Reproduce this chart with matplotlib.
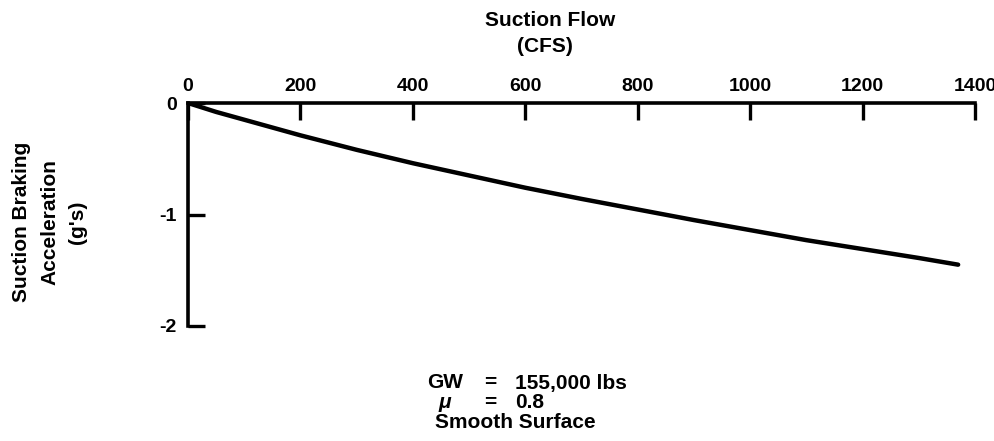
import numpy as np
import matplotlib.pyplot as plt

# suction flow (CFS) vs braking acceleration (g's)
flow = [0, 50, 100, 200, 300, 400, 500, 600, 700, 800, 900, 1000, 1100, 1200, 1300, 1370]
accel = [0, -0.08, -0.15, -0.29, -0.42, -0.54, -0.65, -0.76, -0.86, -0.955, -1.05,
         -1.14, -1.23, -1.31, -1.39, -1.45]

x_ticks = [0, 200, 400, 600, 800, 1000, 1200, 1400]
y_ticks = [0, -1, -2]

plt.rcParams['font.family'] = ['Liberation Sans', 'DejaVu Sans']
plt.rcParams['font.weight'] = 'bold'

W, H = 995, 441
fig = plt.figure(figsize=(W / 100, H / 100), dpi=100)
left, right, top, bottom = 188, 975, 103, 326
ax = fig.add_axes([left / W, 1 - bottom / H, (right - left) / W, (bottom - top) / H])

ax.plot(flow, accel, color='black', lw=3.2, solid_capstyle='round', solid_joinstyle='round')

ax.set_xlim(0, 1400)
ax.set_ylim(-2, 0)
ax.spines['right'].set_visible(False)
ax.spines['bottom'].set_visible(False)
ax.spines['top'].set_linewidth(2.6)
ax.spines['left'].set_linewidth(2.6)

ax.xaxis.tick_top()
ax.set_xticks(x_ticks)
ax.set_yticks(y_ticks)
ax.set_yticklabels(['0', '-1', '-2'])
ax.tick_params(axis='x', direction='in', length=12, width=2.4, labelsize=14, pad=6)
ax.tick_params(axis='y', direction='in', length=12, width=2.4, labelsize=14, pad=8)
for lab in ax.get_xticklabels() + ax.get_yticklabels():
    lab.set_fontweight('bold')

fs = 15
# axis titles
fig.text(550 / W, 1 - 20 / H, 'Suction Flow', ha='center', va='center', fontsize=fs)
fig.text(545 / W, 1 - 47 / H, '(CFS)', ha='center', va='center', fontsize=fs)
ylab = ['Suction Braking', 'Acceleration', "(g's)"]
for xp, s in zip([22, 50, 78], ylab):
    fig.text(xp / W, 1 - 222 / H, s, rotation=90, ha='center', va='center', fontsize=fs)

# test conditions
fig.text(427 / W, 1 - 383 / H, 'GW', ha='left', va='center', fontsize=fs)
fig.text(490 / W, 1 - 383 / H, '=', ha='center', va='center', fontsize=fs)
fig.text(515 / W, 1 - 383 / H, '155,000 lbs', ha='left', va='center', fontsize=fs)
fig.text(445 / W, 1 - 403 / H, 'μ', ha='center', va='center', fontsize=fs, fontstyle='italic')
fig.text(490 / W, 1 - 403 / H, '=', ha='center', va='center', fontsize=fs)
fig.text(515 / W, 1 - 403 / H, '0.8', ha='left', va='center', fontsize=fs)
fig.text(515 / W, 1 - 423 / H, 'Smooth Surface', ha='center', va='center', fontsize=fs)

fig.savefig('out.png', dpi=100)
